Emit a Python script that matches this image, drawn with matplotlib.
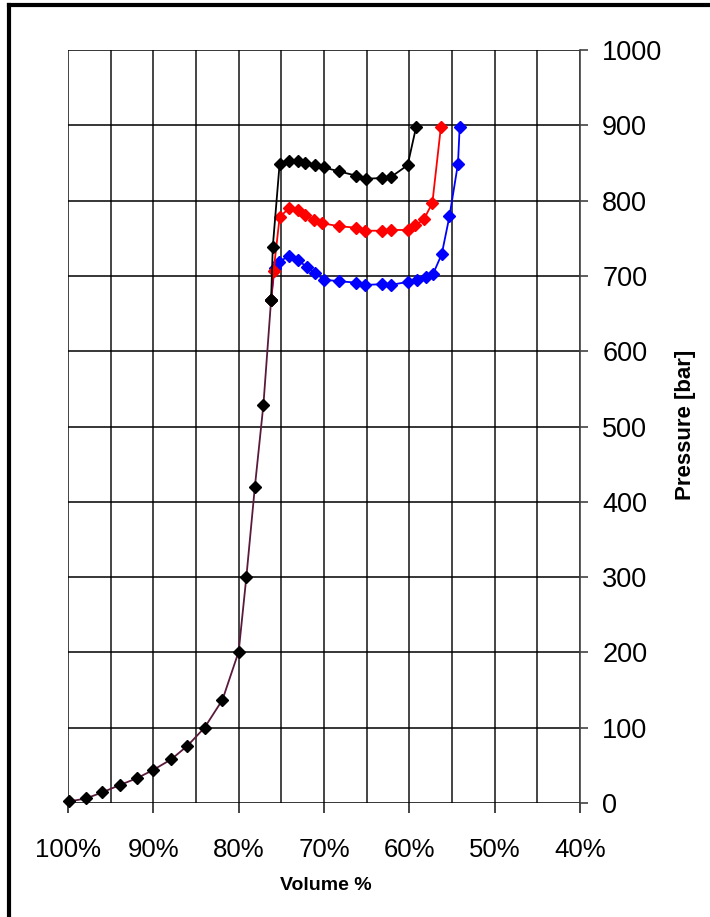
import matplotlib
matplotlib.use('Agg')
import matplotlib.pyplot as plt
from matplotlib.lines import Line2D
from matplotlib.ticker import MultipleLocator, FuncFormatter

plt.rcParams['font.family'] = ['Liberation Sans', 'DejaVu Sans']

# Shared compression curve (all three runs overlap here)
commonVolume = [99.9, 97.9, 96.0, 93.9, 91.9, 90.0, 87.9, 86.0, 84.0, 81.9, 80.0, 79.1, 78.1, 77.1, 76.2]
commonPressure = [2, 6, 14, 24, 33, 44, 58, 76, 100, 137, 201, 300, 420, 529, 668]

# Branches after the knee
blackVolume = [76.2, 76.0, 75.2, 74.1, 73.1, 72.2, 71.1, 70.0, 68.3, 66.2, 65.1, 63.2, 62.2, 60.2, 59.2]
blackPressure = [668, 739, 849, 853, 853, 850, 847, 844, 839, 833, 829, 830, 831, 847, 898]

redVolume = [76.2, 75.9, 75.2, 74.1, 73.1, 72.2, 71.2, 70.2, 68.3, 66.2, 65.2, 63.2, 62.2, 60.2, 59.3, 58.3, 57.3, 56.3]
redPressure = [668, 707, 778, 790, 788, 781, 774, 770, 766, 764, 760, 760, 761, 761, 767, 775, 797, 898]

blueVolume = [76.2, 75.8, 75.3, 74.1, 73.1, 72.0, 71.1, 70.0, 68.3, 66.2, 65.2, 63.2, 62.2, 60.2, 59.1, 58.1, 57.2, 56.2, 55.3, 54.3, 54.1]
bluePressure = [668, 710, 719, 726, 721, 712, 704, 695, 693, 691, 688, 689, 688, 692, 694, 698, 703, 729, 779, 849, 898]

W, H = 710, 917
fig = plt.figure(figsize=(W / 100, H / 100), dpi=100)
ax = fig.add_axes([68 / W, 1 - 803 / H, (580 - 68) / W, (803 - 50) / H])

ax.set_xlim(100, 40)
ax.set_ylim(0, 1000)

# grid
ax.xaxis.set_major_locator(MultipleLocator(10))
ax.xaxis.set_minor_locator(MultipleLocator(5))
ax.yaxis.set_major_locator(MultipleLocator(100))
ax.grid(True, which='major', axis='y', color='black', lw=1.1)
ax.grid(True, which='both', axis='x', color='#444444', lw=1.4)
ax.set_axisbelow(True)

for side in ['left', 'bottom', 'top']:
	ax.spines[side].set_visible(False)
ax.spines['right'].set_color('#444444')
ax.spines['right'].set_linewidth(1.2)

ax.yaxis.tick_right()
ax.tick_params(axis='y', direction='out', length=6, width=1.1, color='#333333',
	pad=10, labelsize=19.5)
ax.tick_params(axis='x', which='major', direction='out', length=7, width=1.4,
	color='#444444', pad=18, labelsize=18.5)
ax.tick_params(axis='x', which='minor', length=0)
ax.xaxis.set_major_formatter(FuncFormatter(lambda v, _: '{:.0f}%'.format(v)))
for lbl in ax.get_yticklabels():
	lbl.set_horizontalalignment('left')

markerStyle = dict(marker='D', markersize=6.5, lw=1.3, clip_on=False)
ax.plot(blueVolume, bluePressure, color='#0000ff', mfc='#0000ff', mec='#0000ff', **markerStyle)
ax.plot(redVolume, redPressure, color='#ff0000', mfc='#ff0000', mec='#ff0000', **markerStyle)
ax.plot(blackVolume, blackPressure, color='black', mfc='black', mec='black', **markerStyle)
ax.plot(commonVolume, commonPressure, color='#5a1a3c', mfc='black', mec='black', **markerStyle)

fig.text(326 / W, 1 - 886 / H, 'Volume %', ha='center', va='center',
	fontsize=14, fontweight='bold')
fig.text(686 / W, 1 - 425 / H, 'Pressure [bar]', ha='center', va='center',
	rotation=90, fontsize=16, fontweight='bold')

# outer frame
fig.add_artist(Line2D([9 / W, 1.0], [1 - 5 / H, 1 - 5 / H], color='black', lw=3,
	transform=fig.transFigure))
fig.add_artist(Line2D([9 / W, 9 / W], [0.0, 1 - 5 / H], color='black', lw=3,
	transform=fig.transFigure))

fig.savefig('out.png', dpi=100)
